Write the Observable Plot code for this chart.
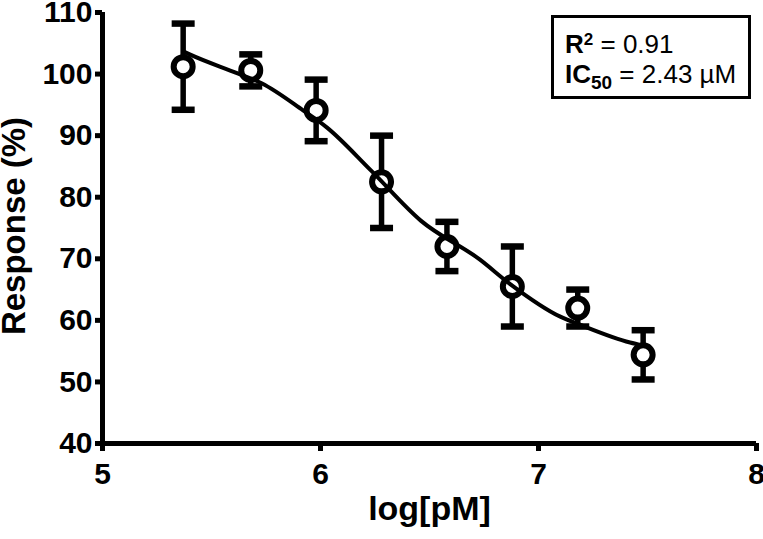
<!DOCTYPE html>
<html><head><meta charset="utf-8">
<script src="https://cdn.jsdelivr.net/npm/d3@7"></script>
<script src="https://cdn.jsdelivr.net/npm/@observablehq/plot@0.6"></script>
<style>
body{margin:0;background:#fff;}
#wrap{position:relative;width:763px;height:539px;font-family:"Liberation Sans",Arial,sans-serif;color:#000;}
#legend{position:absolute;left:551px;top:15px;width:183px;height:67px;border:3px solid #000;padding:11px 0 0 11px;font-size:26px;line-height:30px;white-space:nowrap;background:#fff;}
#legend .ln{height:30px;}
#legend b{font-weight:bold;}
#legend .sup{font-size:17px;font-weight:bold;vertical-align:8px;line-height:0;}
#legend .sub{font-size:19px;font-weight:bold;vertical-align:-6px;line-height:0;}
</style></head>
<body><div id="wrap"></div>
<script>
// data
const doseLog = [5.37, 5.68, 5.98, 6.28, 6.58, 6.88, 7.18, 7.48];
const responseMean = [101.2, 100.6, 94.1, 82.5, 72.0, 65.5, 62.0, 54.4];
const responseErr = [7.0, 2.6, 5.0, 7.5, 4.0, 6.5, 3.0, 4.0];
const fitX = [5.37, 5.40, 5.62, 5.73, 5.92, 6.03, 6.23, 6.46, 6.73, 6.87, 7.10, 7.19, 7.42, 7.48];
const fitY = [103.7, 103.2, 100.1, 98.5, 94.1, 91.3, 84.4, 76.2, 69.9, 65.9, 60.6, 59.3, 56.4, 55.9];
const xDomain = [5, 8];
const yDomain = [40, 110];
const xTicks = [5, 6, 7, 8];
const yTicks = [40, 50, 60, 70, 80, 90, 100, 110];
const xLabel = "log[pM]";
const yLabel = "Response (%)";

const points = doseLog.map((x, i) => ({x, y: responseMean[i], lo: responseMean[i] - responseErr[i], hi: responseMean[i] + responseErr[i]}));
const fit = fitX.map((x, i) => ({x, y: fitY[i]}));

const capSymbol = {draw(ctx, size) { const w = Math.sqrt(size / Math.PI); ctx.moveTo(-w, 0); ctx.lineTo(w, 0); }};

const chart = Plot.plot({
  width: 763, height: 539,
  marginLeft: 102, marginRight: 7, marginTop: 12, marginBottom: 96,
  style: {fontFamily: "'Liberation Sans', Arial, sans-serif", fontWeight: "bold", fontSize: "30px", color: "#000", background: "#fff"},
  x: {domain: xDomain, label: null},
  y: {domain: yDomain, label: null},
  marks: [
    Plot.axisY({ticks: yTicks, tickSize: 7, tickPadding: 3, strokeWidth: 5, fontSize: 30, fontWeight: "bold", label: null}),
    Plot.axisX({ticks: xTicks, tickSize: 8, tickPadding: 11, strokeWidth: 5, fontSize: 30, fontWeight: "bold", label: null, tickFormat: d => String(d)}),
    Plot.ruleX(xDomain.slice(0, 1), {stroke: "#000", strokeWidth: 5}),
    Plot.ruleY(yDomain.slice(0, 1), {stroke: "#000", strokeWidth: 5}),
    Plot.ruleX(points, {x: "x", y1: "lo", y2: "hi", stroke: "#000", strokeWidth: 5.5}),
    Plot.dot(points, {x: "x", y: "hi", symbol: capSymbol, r: 11.5, stroke: "#000", strokeWidth: 6.5, fill: "none"}),
    Plot.dot(points, {x: "x", y: "lo", symbol: capSymbol, r: 11.5, stroke: "#000", strokeWidth: 6.5, fill: "none"}),
    Plot.dot(points, {x: "x", y: "y", r: 9.5, stroke: "#000", strokeWidth: 6, fill: "#fff"}),
    Plot.line(fit, {x: "x", y: "y", curve: "monotone-x", stroke: "#000", strokeWidth: 4}),
    Plot.text([xLabel], {frameAnchor: "bottom", dy: 76, fontSize: 34, fontWeight: "bold", fill: "#000", textAnchor: "middle"}),
    Plot.text([yLabel], {frameAnchor: "left", rotate: -90, dx: -88, dy: -2, fontSize: 33, fontWeight: "bold", fill: "#000", textAnchor: "middle"})
  ]
});
const wrap = document.getElementById("wrap");
wrap.appendChild(chart);
const legend = document.createElement("div");
legend.id = "legend";
legend.innerHTML = '<div class="ln"><b>R</b><span class="sup">2</span> = 0.91</div>' +
  '<div class="ln"><b>IC</b><span class="sub">50</span> = 2.43 \u00B5M</div>';
wrap.appendChild(legend);
</script></body></html>
